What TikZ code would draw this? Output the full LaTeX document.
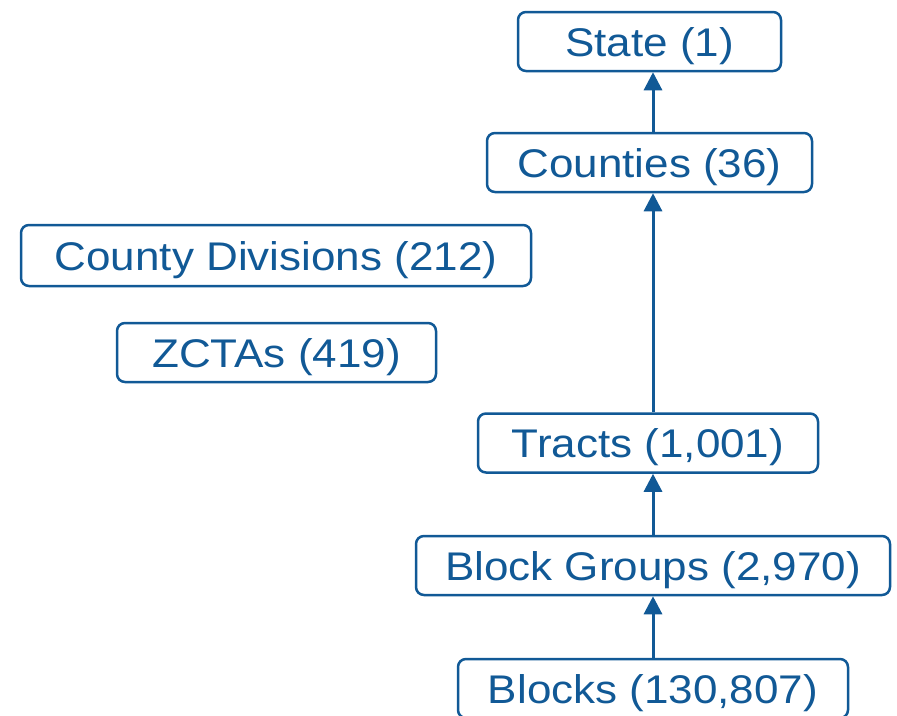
\documentclass[tikz,border=0pt]{standalone}
\usepackage{fontspec}
\usepackage{tikz}
\usetikzlibrary{arrows.meta, positioning}
\newfontfamily\geofont[FakeStretch=1.1]{Liberation Sans}
\definecolor{geoblue}{RGB}{17, 89, 150}

\begin{document}
\begin{tikzpicture}[x=1pt, y=-1pt,
    geobox/.style={draw=geoblue, line width=2.5pt, rounded corners=8pt, text=geoblue,
        minimum height=59pt, inner sep=0pt, text height=29pt, text depth=0pt,
        font=\geofont\fontsize{40}{48}\selectfont},
    uparrow/.style={draw=geoblue, line width=3pt, -{Triangle[length=18pt, width=18pt]}}]
\useasboundingbox (0,0) rectangle (897,715);
% Main hierarchy
\node[geobox, minimum width=263pt] (state) at (649.5,41.5) {State (1)};
\node[geobox, minimum width=325pt] (counties) at (649.5,162.5) {Counties (36)};
\node[geobox, minimum width=340pt] (tracts) at (648,443) {Tracts (1,001)};
\node[geobox, minimum width=474pt] (bgroups) at (653,565.5) {Block Groups (2,970)};
\node[geobox, minimum width=390pt] (blocks) at (653,688.5) {Blocks (130,807)};
% Side geographies
\node[geobox, minimum width=510pt, minimum height=61pt] (cdivs) at (276,255.5) {County Divisions (212)};
\node[geobox, minimum width=319pt] (zctas) at (276.5,352.5) {ZCTAs (419)};
% Nesting arrows
\draw[uparrow] (blocks.north) -- (blocks.north |- bgroups.south);
\draw[uparrow] (bgroups.north) -- (bgroups.north |- tracts.south);
\draw[uparrow] (bgroups.north |- tracts.north) -- (bgroups.north |- counties.south);
\draw[uparrow] (bgroups.north |- counties.north) -- (bgroups.north |- state.south);
\end{tikzpicture}
\end{document}
